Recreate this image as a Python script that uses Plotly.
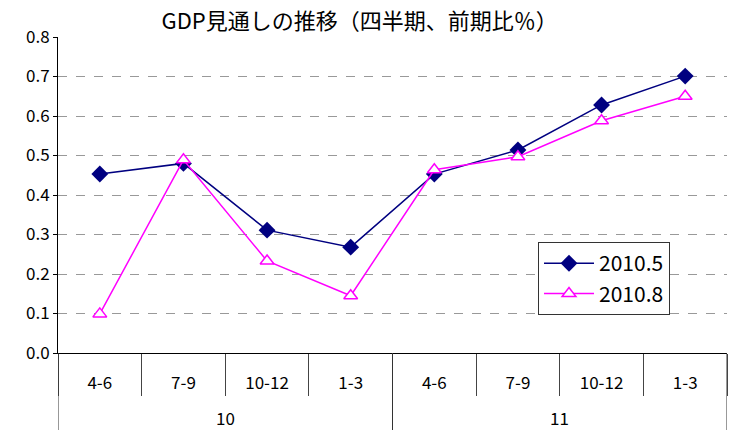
import plotly.graph_objects as go

years = ["10", "10", "10", "10", "11", "11", "11", "11"]
quarters = ["4-6", "7-9", "10-12", "1-3", "4-6", "7-9", "10-12", "1-3"]
year_groups = ["10", "11"]
s_may = [0.453, 0.480, 0.311, 0.268, 0.453, 0.514, 0.628, 0.701]
s_aug = [0.099, 0.489, 0.233, 0.145, 0.464, 0.497, 0.588, 0.650]
title = "GDP見通しの推移（四半期、前期比％）"

FONT = "Noto Sans CJK JP, sans-serif"

keys = [f"{y}/{q}" for y, q in zip(years, quarters)]

fig = go.Figure()
fig.add_trace(go.Scatter(
    x=keys, y=s_may, name="2010.5", mode="lines+markers",
    line=dict(color="#000080", width=1.5),
    marker=dict(symbol="diamond", size=13, color="#000080"),
))
fig.add_trace(go.Scatter(
    x=keys, y=s_aug, name="2010.8", mode="lines+markers",
    line=dict(color="#FF00FF", width=1.5),
    marker=dict(symbol="triangle-up", size=12, color="white",
                line=dict(color="#FF00FF", width=1.5)),
))

# year group labels and dividers
n = len(keys)
bounds = [-0.5]
centers = []
for g in year_groups:
    idx = [i for i, y in enumerate(years) if y == g]
    centers.append((idx[0] + idx[-1]) / 2)
    bounds.append(idx[-1] + 0.5)
for b in bounds:
    fig.add_shape(type="line", xref="x", yref="paper", x0=b, x1=b, y0=0, y1=-0.25,
                  line=dict(color="#333333", width=1))
for g, c in zip(year_groups, centers):
    fig.add_annotation(x=c, y=-0.205, xref="x", yref="paper", text=g, showarrow=False,
                       yanchor="middle", font=dict(family=FONT, size=17, color="black"))

fig.update_layout(
    width=734, height=430,
    margin=dict(l=58, r=7, t=37, b=77),
    paper_bgcolor="white", plot_bgcolor="white",
    font=dict(family=FONT, size=17, color="black"),
    title=dict(text=title, x=0.49, xanchor="center", y=0.95, yanchor="middle",
               font=dict(family=FONT, size=22, color="black")),
    showlegend=True,
    legend=dict(x=0.7175, y=0.351, xanchor="left", yanchor="top",
                bgcolor="white", bordercolor="#333333", borderwidth=1,
                itemwidth=50, font=dict(family=FONT, size=21)),
    xaxis=dict(type="category", categoryorder="array", categoryarray=keys,
               tickmode="array", tickvals=keys, ticktext=quarters,
               range=[-0.5, n - 0.5],
               showline=True, linecolor="black", linewidth=1,
               showgrid=False, ticks="outside", tickson="boundaries", ticklen=42,
               tickcolor="#444444", zeroline=False, ticklabelstandoff=15,
               tickfont=dict(family=FONT, size=17)),
    yaxis=dict(range=[0, 0.8], dtick=0.1, tickformat=".1f", showline=True,
               linecolor="black", linewidth=1, ticks="outside", ticklen=4,
               tickcolor="black", showgrid=True, gridcolor="#999999", griddash="dash",
               gridwidth=1, zeroline=False, tickfont=dict(family=FONT, size=17)),
)

fig.write_html("out.html", config={"displayModeBar": False},
               post_script="document.body.style.margin='0';")
